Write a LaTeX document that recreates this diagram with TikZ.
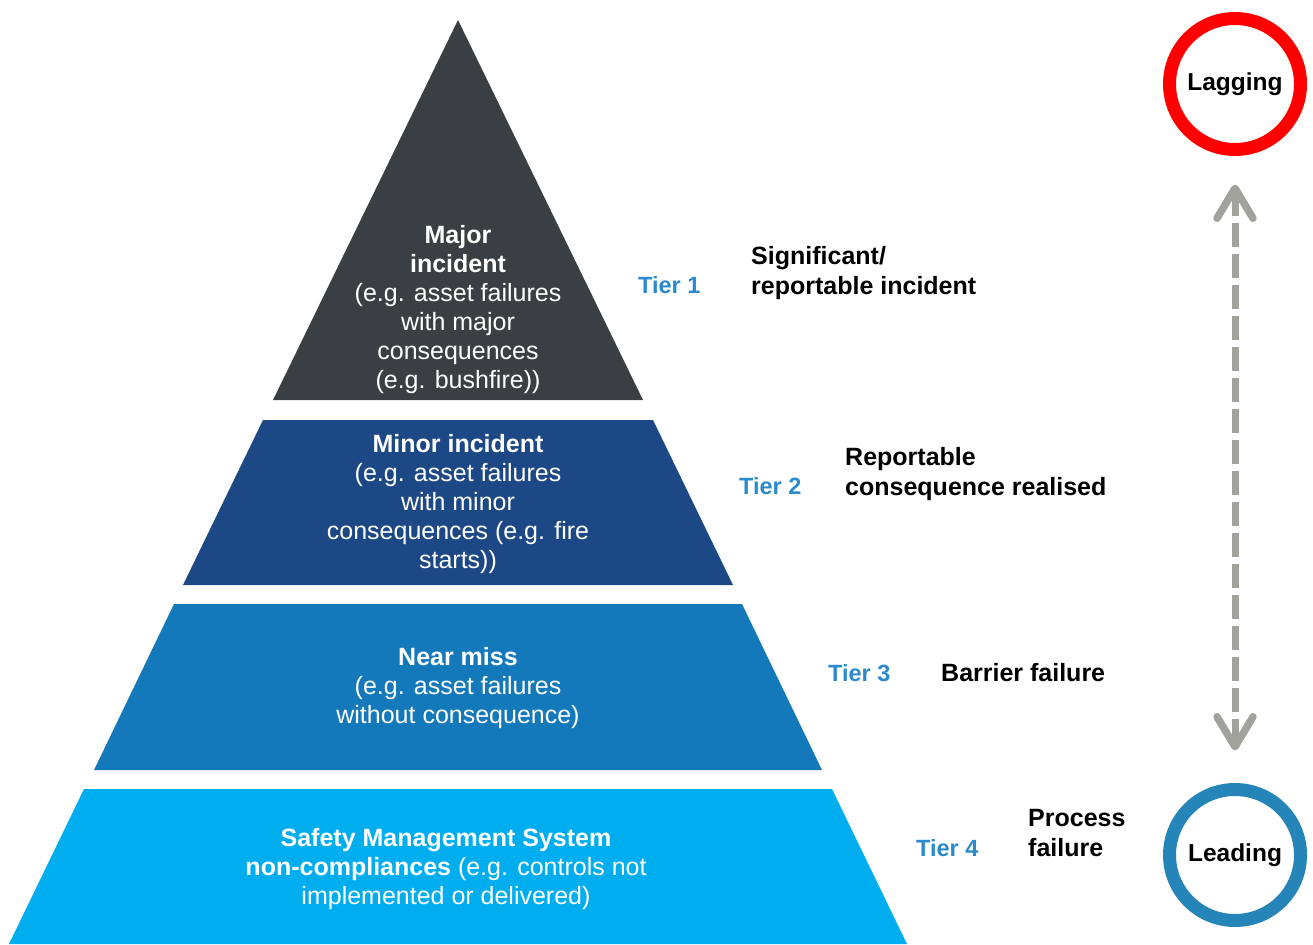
\documentclass[tikz,border=0pt]{standalone}
\usepackage{fontspec}
\setmainfont{Liberation Sans}
\usetikzlibrary{arrows.meta}

\definecolor{levelone}{HTML}{3A3F44}
\definecolor{leveltwo}{HTML}{1C4885}
\definecolor{levelthree}{HTML}{1479BA}
\definecolor{levelfour}{HTML}{00ADEE}
\definecolor{tierblue}{HTML}{2B8ACB}
\definecolor{leadblue}{HTML}{2585B8}
\definecolor{arrowgray}{HTML}{A2A29D}

\begin{document}
\begin{tikzpicture}[x=1pt,y=-1pt,
  bandtext/.style={text=white, align=center, inner sep=0pt,
    font=\fontsize{25}{29}\selectfont},
  tierlabel/.style={anchor=west, inner sep=0pt, text=tierblue,
    font=\fontsize{23.5}{29}\selectfont\bfseries},
  meaning/.style={anchor=west, inner sep=0pt, align=left, text=black,
    font=\fontsize{25}{30}\selectfont\bfseries},
  ring/.style={circle, line width=13pt, minimum size=131pt, inner sep=0pt,
    outer sep=0pt, fill=white, font=\fontsize{24.5}{29}\selectfont\bfseries},
  barb/.tip={Straight Barb[length=30pt, width=36pt, line width=7.5pt, round]}
]
\useasboundingbox (0,0) rectangle (1313,944);

% pyramid bands, top to bottom
\fill[levelone]   (458,20) -- (643,400) -- (273,400) -- cycle;
\fill[leveltwo]   (263,420) -- (653,420) -- (733,585) -- (183,585) -- cycle;
\fill[levelthree] (174,604) -- (742,604) -- (822,770) -- (94,770) -- cycle;
\fill[levelfour]  (84,789) -- (832,789) -- (907,944) -- (9,944) -- cycle;

% band texts
\node[bandtext] (t1) at (458,310) {\textbf{Major}\\\textbf{incident}\\(e.g. asset failures\\with major\\consequences\\(e.g. bushfire))};
\node[bandtext] (t2) at (458,504) {\textbf{Minor incident}\\(e.g. asset failures\\with minor\\consequences (e.g. fire\\starts))};
\node[bandtext] (t3) at (458,688) {\textbf{Near miss}\\(e.g. asset failures\\without consequence)};
\node[bandtext] (t4) at (446,869) {\textbf{Safety Management System}\\\textbf{non-compliances} (e.g. controls not\\implemented or delivered)};

% tier labels and their meanings
\node[tierlabel] (tier1) at (638,285) {Tier 1};
\node[meaning]   (m1)    at (751,273) {Significant/\\reportable incident};
\node[tierlabel] (tier2) at (739,486) {Tier 2};
\node[meaning]   (m2)    at (845,474) {Reportable\\consequence realised};
\node[tierlabel] (tier3) at (828,673) {Tier 3};
\node[meaning]   (m3)    at (941,673) {Barrier failure};
\node[tierlabel] (tier4) at (916,848) {Tier 4};
\node[meaning]   (m4)    at (1028,833) {Process\\failure};

% indicator rings
\node[ring, draw=red]      (lag)  at (1235,84)  {Lagging};
\node[ring, draw=leadblue] (lead) at (1235,855) {Leading};

% two-way dashed arrow between the rings
\draw[arrowgray, line width=7pt, dash pattern=on 24pt off 7pt,
      shorten <=35pt, shorten >=39pt, {barb}-{barb}] (lag) -- (lead);
\end{tikzpicture}
\end{document}
